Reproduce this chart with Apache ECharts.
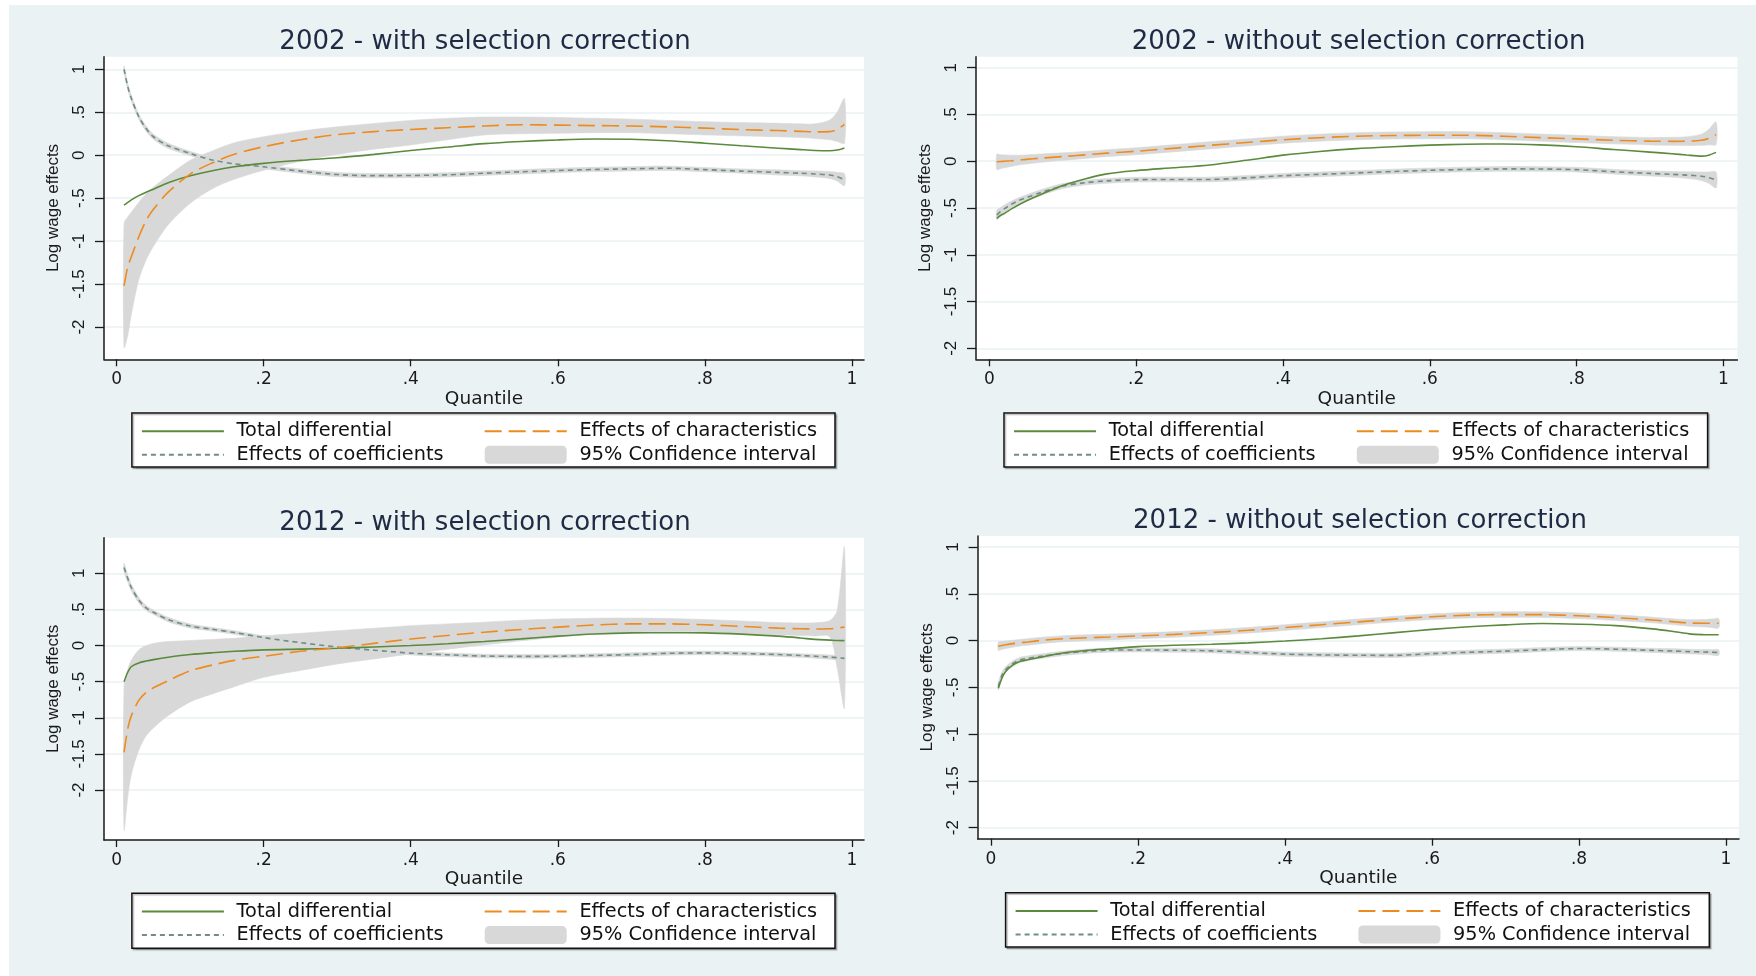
<!DOCTYPE html>
<html>
<head>
<meta charset="utf-8">
<script src="https://cdn.jsdelivr.net/npm/echarts@6/dist/echarts.min.js"></script>
<style>
html,body{margin:0;padding:0;background:#ffffff;}
#chart{width:1756px;height:976px;}
</style>
</head>
<body>
<div id="chart"></div>
<script>
// ---------------- data ----------------
const quantiles = [0.01,0.015,0.02,0.03,0.04,0.05,0.07,0.1,0.13,0.16,0.2,0.25,0.3,0.35,0.4,0.45,0.5,0.55,0.6,0.65,0.7,0.75,0.8,0.85,0.9,0.93,0.95,0.97,0.98,0.99];

const xTicks = [0, 0.2, 0.4, 0.6, 0.8, 1];
const yTicks = [-2, -1.5, -1, -0.5, 0, 0.5, 1];

const panelTitles = ['2002 - with selection correction', '2002 - without selection correction', '2012 - with selection correction', '2012 - without selection correction'];
const seriesNames = ['Total differential', 'Effects of characteristics', 'Effects of coefficients', '95% Confidence interval'];
const xAxisTitle = 'Quantile';
const yAxisTitle = 'Log wage effects';

// 2002 - with selection correction
const p1Total  = [-0.58,-0.55,-0.52,-0.47,-0.43,-0.395,-0.32,-0.24,-0.18,-0.135,-0.095,-0.06,-0.03,0.01,0.055,0.095,0.135,0.16,0.178,0.188,0.186,0.168,0.14,0.11,0.082,0.065,0.055,0.052,0.06,0.085];
const p1Char   = [-1.52,-1.30,-1.18,-0.95,-0.76,-0.63,-0.43,-0.22,-0.09,0.01,0.1,0.18,0.24,0.275,0.3,0.32,0.34,0.355,0.35,0.345,0.34,0.33,0.315,0.298,0.287,0.278,0.272,0.275,0.3,0.36];
const p1CharLo = [-2.24,-2.1,-1.85,-1.45,-1.22,-1.06,-0.81,-0.56,-0.39,-0.28,-0.175,-0.07,0.01,0.07,0.12,0.18,0.236,0.25,0.256,0.262,0.262,0.25,0.236,0.225,0.215,0.205,0.195,0.18,0.16,0.14];
const p1CharHi = [-0.79,-0.72,-0.66,-0.55,-0.45,-0.37,-0.24,-0.06,0.05,0.145,0.215,0.28,0.33,0.37,0.405,0.43,0.445,0.445,0.44,0.43,0.42,0.405,0.39,0.38,0.372,0.365,0.365,0.41,0.5,0.66];
const p1Coef   = [1.0,0.8,0.66,0.45,0.31,0.215,0.11,0.02,-0.055,-0.1,-0.135,-0.185,-0.225,-0.238,-0.236,-0.228,-0.21,-0.193,-0.178,-0.166,-0.158,-0.152,-0.168,-0.185,-0.2,-0.21,-0.218,-0.23,-0.25,-0.285];
const p1CoefLo = [0.96,0.765,0.625,0.42,0.28,0.185,0.08,-0.005,-0.08,-0.125,-0.16,-0.21,-0.25,-0.263,-0.261,-0.253,-0.235,-0.218,-0.203,-0.191,-0.183,-0.177,-0.193,-0.21,-0.23,-0.24,-0.253,-0.27,-0.3,-0.355];
const p1CoefHi = [1.04,0.835,0.695,0.48,0.34,0.245,0.14,0.045,-0.03,-0.075,-0.11,-0.16,-0.2,-0.213,-0.211,-0.203,-0.185,-0.168,-0.153,-0.141,-0.133,-0.127,-0.143,-0.16,-0.17,-0.18,-0.183,-0.19,-0.2,-0.215];

// 2002 - without selection correction
const p2Total  = [-0.61,-0.58,-0.56,-0.51,-0.465,-0.425,-0.355,-0.26,-0.19,-0.135,-0.1,-0.07,-0.04,0.01,0.065,0.105,0.135,0.155,0.172,0.182,0.185,0.175,0.155,0.125,0.098,0.08,0.066,0.055,0.065,0.095];
const p2Char   = [-0.005,-0.003,0.0,0.005,0.012,0.02,0.033,0.05,0.068,0.087,0.107,0.138,0.17,0.2,0.23,0.252,0.268,0.275,0.278,0.278,0.268,0.253,0.239,0.224,0.215,0.213,0.214,0.225,0.245,0.285];
const p2CharLo = [-0.09,-0.08,-0.07,-0.055,-0.04,-0.03,-0.012,0.01,0.03,0.05,0.07,0.1,0.132,0.163,0.193,0.215,0.23,0.238,0.24,0.24,0.23,0.215,0.2,0.186,0.175,0.17,0.168,0.17,0.175,0.18];
const p2CharHi = [0.075,0.07,0.068,0.065,0.065,0.068,0.078,0.09,0.105,0.124,0.144,0.176,0.208,0.238,0.268,0.29,0.306,0.313,0.316,0.316,0.306,0.291,0.278,0.263,0.255,0.256,0.262,0.29,0.34,0.42];
const p2Coef   = [-0.575,-0.54,-0.51,-0.46,-0.42,-0.39,-0.335,-0.265,-0.23,-0.21,-0.197,-0.195,-0.195,-0.178,-0.155,-0.14,-0.125,-0.11,-0.097,-0.088,-0.082,-0.083,-0.09,-0.112,-0.13,-0.14,-0.148,-0.16,-0.175,-0.2];
const p2CoefLo = [-0.625,-0.585,-0.55,-0.495,-0.45,-0.42,-0.365,-0.292,-0.255,-0.235,-0.222,-0.22,-0.22,-0.203,-0.18,-0.165,-0.15,-0.135,-0.122,-0.113,-0.107,-0.108,-0.115,-0.137,-0.158,-0.17,-0.183,-0.205,-0.235,-0.285];
const p2CoefHi = [-0.525,-0.495,-0.47,-0.425,-0.39,-0.36,-0.305,-0.238,-0.205,-0.185,-0.172,-0.17,-0.17,-0.153,-0.13,-0.115,-0.1,-0.085,-0.072,-0.063,-0.057,-0.058,-0.065,-0.087,-0.102,-0.11,-0.113,-0.115,-0.115,-0.115];

// 2012 - with selection correction
const p3Total  = [-0.5,-0.37,-0.29,-0.24,-0.215,-0.195,-0.163,-0.125,-0.1,-0.08,-0.06,-0.05,-0.038,-0.02,0.0,0.025,0.056,0.092,0.13,0.16,0.175,0.177,0.175,0.158,0.13,0.105,0.085,0.075,0.07,0.068];
const p3Char   = [-1.48,-1.15,-0.97,-0.76,-0.65,-0.585,-0.486,-0.35,-0.27,-0.205,-0.148,-0.08,-0.032,0.03,0.09,0.14,0.185,0.222,0.255,0.285,0.3,0.3,0.287,0.265,0.241,0.232,0.23,0.232,0.24,0.255];
const p3CharLo = [-2.55,-2.1,-1.78,-1.45,-1.25,-1.14,-0.97,-0.78,-0.67,-0.57,-0.44,-0.345,-0.255,-0.185,-0.116,-0.05,0.009,0.065,0.116,0.16,0.185,0.19,0.185,0.168,0.148,0.138,0.132,0.12,-0.3,-0.86];
const p3CharHi = [-0.56,-0.33,-0.2,-0.06,0.0,0.03,0.055,0.07,0.085,0.1,0.135,0.17,0.205,0.24,0.275,0.3,0.324,0.35,0.368,0.378,0.38,0.375,0.36,0.34,0.318,0.312,0.315,0.345,0.48,1.36];
const p3Coef   = [1.08,0.93,0.8,0.63,0.52,0.46,0.36,0.27,0.225,0.18,0.11,0.04,-0.02,-0.065,-0.105,-0.128,-0.145,-0.15,-0.148,-0.138,-0.125,-0.108,-0.102,-0.11,-0.125,-0.138,-0.148,-0.16,-0.168,-0.178];
const p3CoefLo = [1.02,0.88,0.755,0.59,0.485,0.43,0.33,0.242,0.2,0.155,0.085,0.015,-0.045,-0.09,-0.13,-0.153,-0.17,-0.175,-0.173,-0.163,-0.15,-0.133,-0.127,-0.135,-0.15,-0.163,-0.175,-0.19,-0.2,-0.215];
const p3CoefHi = [1.14,0.98,0.845,0.67,0.555,0.49,0.39,0.298,0.25,0.205,0.135,0.065,0.005,-0.04,-0.08,-0.103,-0.12,-0.125,-0.123,-0.113,-0.1,-0.083,-0.077,-0.085,-0.1,-0.113,-0.121,-0.13,-0.136,-0.141];

// 2012 - without selection correction
const p4Total  = [-0.51,-0.4,-0.33,-0.26,-0.222,-0.205,-0.175,-0.13,-0.105,-0.088,-0.065,-0.05,-0.04,-0.025,-0.005,0.02,0.05,0.085,0.12,0.148,0.168,0.182,0.175,0.16,0.125,0.095,0.072,0.063,0.062,0.062];
const p4Char   = [-0.06,-0.052,-0.045,-0.033,-0.023,-0.015,0.003,0.02,0.03,0.038,0.05,0.066,0.086,0.11,0.139,0.17,0.2,0.23,0.255,0.272,0.278,0.277,0.265,0.245,0.22,0.2,0.188,0.185,0.185,0.185];
const p4CharLo = [-0.105,-0.094,-0.085,-0.07,-0.058,-0.05,-0.03,-0.012,-0.001,0.007,0.02,0.036,0.056,0.08,0.109,0.14,0.17,0.2,0.225,0.242,0.248,0.247,0.235,0.215,0.19,0.168,0.153,0.145,0.14,0.135];
const p4CharHi = [-0.015,-0.01,-0.005,0.004,0.012,0.02,0.036,0.052,0.061,0.069,0.08,0.096,0.116,0.14,0.169,0.2,0.23,0.26,0.285,0.302,0.308,0.307,0.295,0.275,0.25,0.232,0.223,0.225,0.23,0.235];
const p4Coef   = [-0.49,-0.37,-0.31,-0.245,-0.205,-0.19,-0.166,-0.135,-0.115,-0.102,-0.1,-0.103,-0.11,-0.128,-0.145,-0.153,-0.157,-0.158,-0.14,-0.125,-0.113,-0.097,-0.085,-0.092,-0.105,-0.112,-0.118,-0.122,-0.125,-0.128];
const p4CoefLo = [-0.53,-0.405,-0.34,-0.275,-0.233,-0.215,-0.19,-0.158,-0.137,-0.124,-0.122,-0.125,-0.132,-0.15,-0.167,-0.175,-0.179,-0.18,-0.162,-0.147,-0.135,-0.119,-0.107,-0.114,-0.127,-0.136,-0.143,-0.148,-0.153,-0.158];
const p4CoefHi = [-0.45,-0.335,-0.28,-0.215,-0.177,-0.165,-0.142,-0.112,-0.093,-0.08,-0.078,-0.081,-0.088,-0.106,-0.123,-0.131,-0.135,-0.136,-0.118,-0.103,-0.091,-0.075,-0.063,-0.07,-0.083,-0.088,-0.093,-0.096,-0.097,-0.098];

const panelData = [
  {total:p1Total, ch:p1Char, chLo:p1CharLo, chHi:p1CharHi, co:p1Coef, coLo:p1CoefLo, coHi:p1CoefHi},
  {total:p2Total, ch:p2Char, chLo:p2CharLo, chHi:p2CharHi, co:p2Coef, coLo:p2CoefLo, coHi:p2CoefHi},
  {total:p3Total, ch:p3Char, chLo:p3CharLo, chHi:p3CharHi, co:p3Coef, coLo:p3CoefLo, coHi:p3CoefHi},
  {total:p4Total, ch:p4Char, chLo:p4CharLo, chHi:p4CharHi, co:p4Coef, coLo:p4CoefLo, coHi:p4CoefHi}
];

// ---------------- layout & style ----------------
const layout = [
  {grid:{left:104, top:56.7, width:760, height:302.6}, xr:[-0.0173,1.0166], yr:[-2.376,1.147], title:[485,42], box:[131.9,413,703.1,54]},
  {grid:{left:976, top:56.7, width:761.4, height:302.6}, xr:[-0.0183,1.0191], yr:[-2.118,1.118], title:[1358.6,42], box:[1004,413,703.6,54]},
  {grid:{left:104, top:537.7, width:760, height:302.3}, xr:[-0.0173,1.0166], yr:[-2.692,1.493], title:[485,523], box:[131.9,893.3,703.1,55]},
  {grid:{left:977.6, top:536, width:761.4, height:302.7}, xr:[-0.0182,1.0177], yr:[-2.118,1.118], title:[1360,521.3], box:[1005.6,892.7,703.7,54.3]}
];

const BG = '#eaf2f3';
const BAND = '#d8d8d8';
const C_TOTAL = '#5a8a3c';
const C_CHAR = '#ee8b1e';
const C_COEF = '#6e8e86';
const AX = '#1a1a1a';
const WIDE = 'DejaVu Sans';
const NARROW = 'Liberation Sans';
const SMOOTH = 0.3;

const pts = ys => quantiles.map((q, k) => [q, ys[k]]);
const fmt = v => String(+(+v).toFixed(2)).replace(/^(-?)0\./, '$1.');

const grids = [], xAxes = [], yAxes = [], titles = [], legends = [], series = [], graphics = [];

graphics.push({type:'rect', shape:{x:9, y:5, width:1747, height:971}, style:{fill:BG}, z:-10, silent:true});

layout.forEach((L, i) => {
  grids.push(Object.assign({show:true, backgroundColor:'#ffffff', borderWidth:0, containLabel:false}, L.grid));
  xAxes.push({
    gridIndex:i, type:'value', min:L.xr[0], max:L.xr[1],
    axisLine:{show:true, onZero:false, lineStyle:{color:AX, width:1.5}},
    axisTick:{show:true, length:7, lineStyle:{color:AX, width:1.3}, customValues:xTicks},
    axisLabel:{customValues:xTicks, formatter:fmt, margin:12, fontFamily:WIDE, fontSize:17, color:AX},
    splitLine:{show:false},
    name:xAxisTitle, nameLocation:'middle', nameGap:22,
    nameTextStyle:{fontFamily:WIDE, fontSize:18.5, color:AX}
  });
  yAxes.push({
    gridIndex:i, type:'value', min:L.yr[0], max:L.yr[1],
    axisLine:{show:true, onZero:false, lineStyle:{color:AX, width:1.5}},
    axisTick:{show:true, length:9, lineStyle:{color:AX, width:1.3}, customValues:yTicks},
    axisLabel:{customValues:yTicks, formatter:fmt, rotate:90, margin:16, fontFamily:NARROW, fontSize:17, color:AX},
    splitLine:{show:true, lineStyle:{color:BG, width:1.5}},
    name:yAxisTitle, nameLocation:'middle', nameGap:42,
    nameTextStyle:{fontFamily:NARROW, fontSize:17, color:AX}
  });
  titles.push({
    text:panelTitles[i], left:L.title[0], top:L.title[1]-15, textAlign:'center', padding:0,
    textStyle:{fontFamily:WIDE, fontSize:26, fontWeight:'normal', color:'#1f2a44', lineHeight:30}
  });

  // legend box
  const b = L.box;
  graphics.push({type:'rect', shape:{x:b[0], y:b[1], width:b[2], height:b[3]},
    style:{fill:'#ffffff', stroke:'#111111', lineWidth:1.5, shadowColor:'rgba(0,0,0,0.25)', shadowOffsetX:1.5, shadowOffsetY:1.5, shadowBlur:1}, z:1, silent:true});
  const common = {orient:'vertical', itemWidth:82, itemHeight:18, itemGap:4.6, padding:0, selectedMode:false, z:5,
    textStyle:{fontFamily:WIDE, fontSize:19.3, color:'#111111', lineHeight:18, padding:[0,0,0,7.7]}};
  legends.push(Object.assign({}, common, {left:b[0]+9, top:b[1]+8.7,
    data:[{name:seriesNames[0], itemStyle:{opacity:0}}, {name:seriesNames[2], itemStyle:{opacity:0}}]}));
  legends.push(Object.assign({}, common, {left:b[0]+351.8, top:b[1]+8.7,
    data:[{name:seriesNames[1], itemStyle:{opacity:0}}, {name:seriesNames[3], icon:'roundRect', itemStyle:{color:BAND, opacity:1, borderWidth:0}}]}));

  const D = panelData[i];
  // confidence band: polygon built from the upper and lower bound arrays, placed by the axes' scales
  const band = (lo, hi) => ({
    type:'custom', name:seriesNames[3], coordinateSystem:'cartesian2d', xAxisIndex:i, yAxisIndex:i,
    data:quantiles.map((q, k) => [q, lo[k], hi[k]]),
    encode:{x:0, y:[1, 2]},
    itemStyle:{color:BAND}, silent:true, z:1, clip:true,
    renderItem:(params, api) => {
      if (params.dataIndex !== 0) return null;
      const up = quantiles.map((q, k) => api.coord([q, hi[k]]));
      const dn = quantiles.map((q, k) => api.coord([q, lo[k]])).reverse();
      return {type:'polygon', shape:{points:up.concat(dn), smooth:SMOOTH},
              style:{fill:BAND, stroke:BAND, lineWidth:0.6}};
    }
  });
  series.push(band(D.chLo, D.chHi));
  series.push(band(D.coLo, D.coHi));
  series.push({type:'line', name:seriesNames[2], xAxisIndex:i, yAxisIndex:i, data:pts(D.co), symbol:'none', smooth:SMOOTH,
    lineStyle:{color:C_COEF, width:1.6, type:[5,4]}, itemStyle:{color:C_COEF}, z:3, silent:true});
  series.push({type:'line', name:seriesNames[0], xAxisIndex:i, yAxisIndex:i, data:pts(D.total), symbol:'none', smooth:SMOOTH,
    lineStyle:{color:C_TOTAL, width:1.6, type:'solid'}, itemStyle:{color:C_TOTAL}, z:3, silent:true});
  series.push({type:'line', name:seriesNames[1], xAxisIndex:i, yAxisIndex:i, data:pts(D.ch), symbol:'none', smooth:SMOOTH,
    lineStyle:{color:C_CHAR, width:1.6, type:[17,7]}, itemStyle:{color:C_CHAR}, z:3, silent:true});
});

const chart = echarts.init(document.getElementById('chart'), null, {renderer:'canvas'});
chart.setOption({
  animation:false,
  backgroundColor:'#ffffff',
  title:titles,
  grid:grids,
  xAxis:xAxes,
  yAxis:yAxes,
  legend:legends,
  graphic:{elements:graphics},
  series:series
});
</script>
</body>
</html>
